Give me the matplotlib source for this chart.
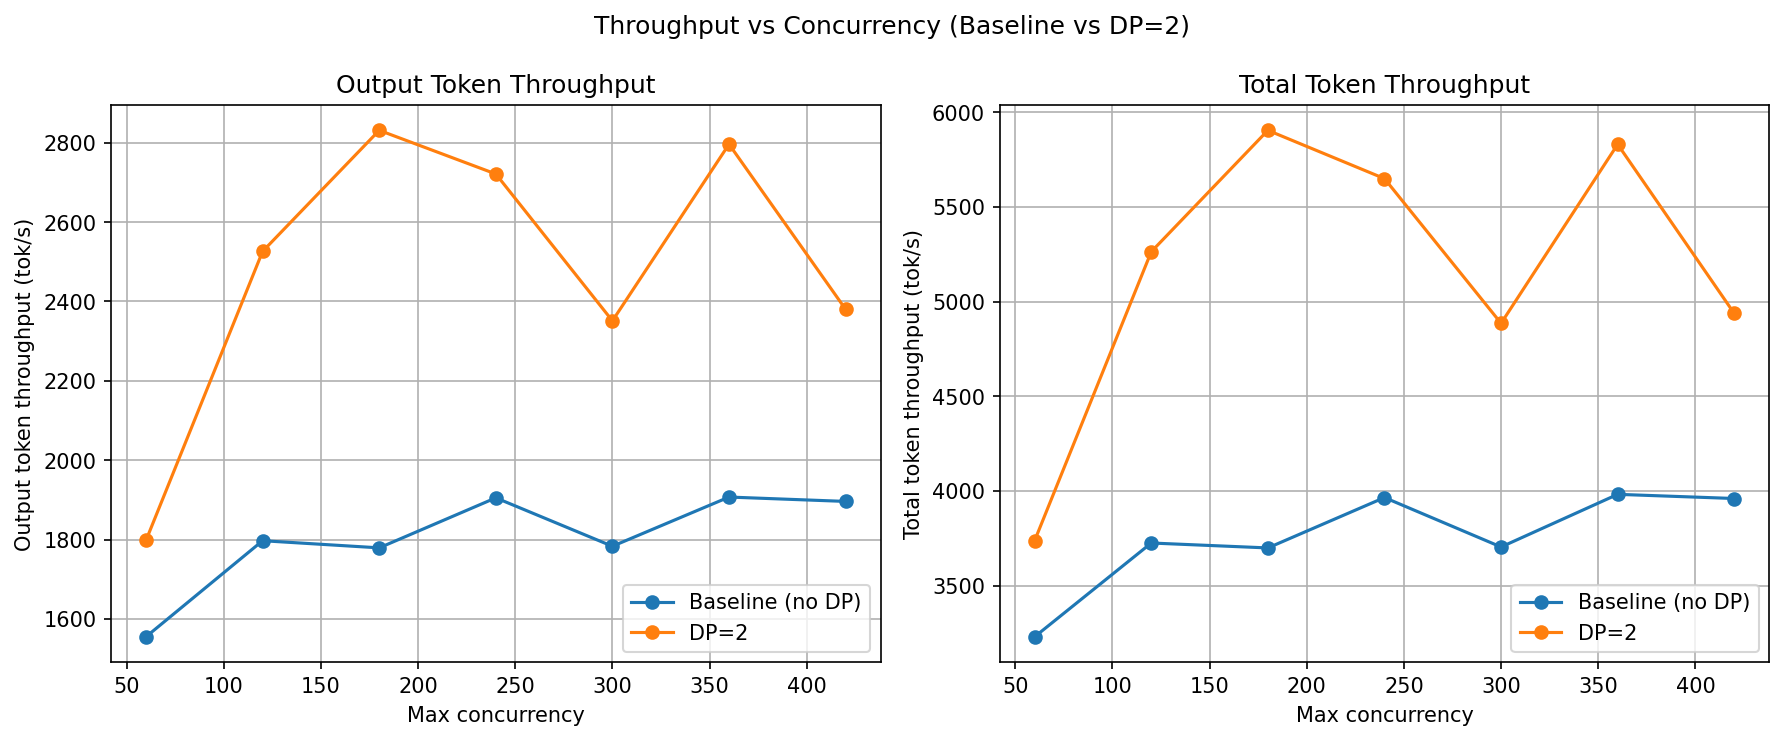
import matplotlib
matplotlib.use("Agg")
import matplotlib.pyplot as plt

# Benchmark results read from the sweep
concurrency = [60, 120, 180, 240, 300, 360, 420]

baseline_output = [1555, 1797, 1779, 1905, 1783, 1907, 1896]
dp2_output = [1798, 2526, 2831, 2721, 2351, 2796, 2380]

baseline_total = [3230, 3725, 3699, 3965, 3704, 3982, 3960]
dp2_total = [3738, 5263, 5904, 5649, 4885, 5830, 4937]


def plot_throughput():
    fig, axes = plt.subplots(1, 2, figsize=(12, 5))

    # Left: output tokens
    ax = axes[0]
    ax.plot(concurrency, baseline_output, marker="o", label="Baseline (no DP)")
    ax.plot(concurrency, dp2_output, marker="o", label="DP=2")
    ax.set_title("Output Token Throughput")
    ax.set_xlabel("Max concurrency")
    ax.set_ylabel("Output token throughput (tok/s)")
    ax.grid(True)
    ax.legend(loc="lower right")

    # Right: total tokens
    ax = axes[1]
    ax.plot(concurrency, baseline_total, marker="o", label="Baseline (no DP)")
    ax.plot(concurrency, dp2_total, marker="o", label="DP=2")
    ax.set_title("Total Token Throughput")
    ax.set_xlabel("Max concurrency")
    ax.set_ylabel("Total token throughput (tok/s)")
    ax.grid(True)
    ax.legend(loc="lower right")

    fig.suptitle("Throughput vs Concurrency (Baseline vs DP=2)")
    fig.tight_layout()
    fig.savefig("out.png", dpi=150, bbox_inches="tight")


if __name__ == "__main__":
    plot_throughput()
